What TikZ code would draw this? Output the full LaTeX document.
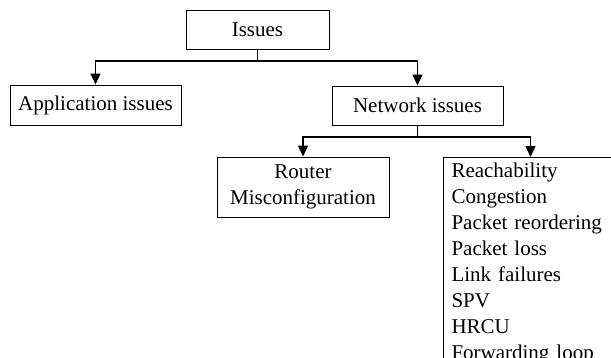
\documentclass[tikz,border=0pt]{standalone}
\usepackage{fontspec}
\setmainfont{Liberation Serif}
\usetikzlibrary{arrows.meta}

\begin{document}
\begin{tikzpicture}[x=1pt,y=-1pt,
  box/.style={draw,rectangle,line width=1pt,inner sep=0pt,align=center,font=\fontsize{21}{26}\selectfont},
  arr/.style={line width=1.2pt,-{Triangle[length=11pt,width=10pt]}}]
\clip (0,0) rectangle (611,357);
\node[box,minimum width=143pt,minimum height=39pt] at (257.5,29.5) (issues) {Issues};
\node[box,minimum width=171pt,minimum height=40pt] at (95.5,105) (app) {Application issues};
\node[box,minimum width=171pt,minimum height=39pt] at (417.5,105.5) (net) {Network issues};
\node[box,minimum width=172pt,minimum height=60pt] at (303,187) (router) {Router\\Misconfiguration};
\node[box,anchor=north west,align=left,text width=158pt,inner xsep=8pt,inner ysep=5.5pt] at (443,157) (list)
  {Reachability\\Congestion\\Packet reordering\\Packet loss\\Link failures\\SPV\\HRCU\\Forwarding loop};

\coordinate (j1) at (257.5,61);
\coordinate (j2) at (417.5,137);

\draw[line width=1.2pt] (issues.south) -- (j1);
\draw[arr] (j1) -| (app.north);
\draw[arr] (j1) -| (net.north);
\draw[line width=1.2pt] (net.south) -- (j2);
\draw[arr] (j2) -| (router.north);
\draw[arr] (j2) -| (list.north);
\end{tikzpicture}
\end{document}
